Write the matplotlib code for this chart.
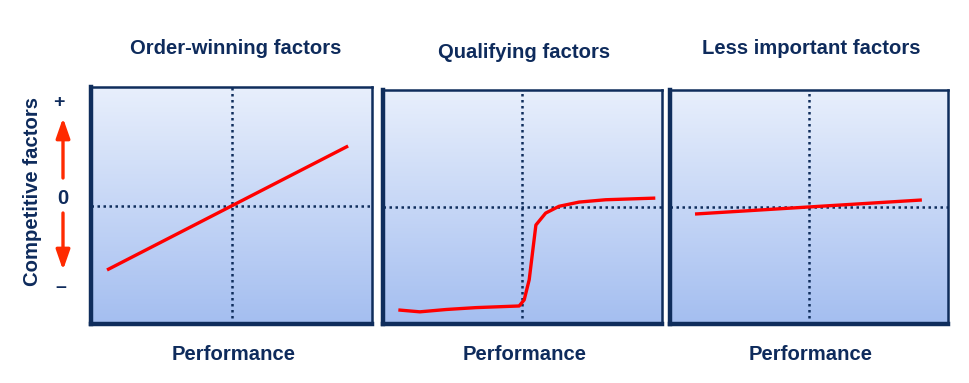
"""
Competitive factors vs performance: order-winning, qualifying, less important
"""

import numpy as np
import matplotlib.pyplot as plt
from matplotlib.colors import LinearSegmentedColormap
from matplotlib.patches import FancyArrowPatch

plt.rcParams['font.family'] = ['Liberation Sans', 'DejaVu Sans']

titles = ['Order-winning factors', 'Qualifying factors', 'Less important factors']
x_label = 'Performance'
y_label = 'Competitive factors'

# curves, in panel units (0..1, centre at 0.5)
order_x = [0.057, 0.915]
order_y = [0.228, 0.751]

qual_x = [0.055, 0.132, 0.227, 0.333, 0.488, 0.506, 0.524, 0.548, 0.583, 0.631, 0.703, 0.798, 0.976]
qual_y = [0.060, 0.052, 0.062, 0.070, 0.077, 0.103, 0.189, 0.423, 0.474, 0.503, 0.521, 0.531, 0.538]

less_x = [0.09, 0.906]
less_y = [0.47, 0.53]

curves = [(order_x, order_y), (qual_x, qual_y), (less_x, less_y)]

navy = '#0F2D5C'
text_col = '#0E2B5C'
grad = LinearSegmentedColormap.from_list('bg', ['#A4BEF0', '#E8EFFC'])

fig = plt.figure(figsize=(9.7, 3.83), dpi=100)
W, H = 970, 383
boxes = [(91, 87, 372, 324), (383, 90, 662, 324), (670, 90, 948, 324)]
title_y = [48, 52, 48]
title_dx = [4, 2, 2]

for (x0, y0, x1, y1), title, ty, dx, (cx, cy) in zip(boxes, titles, title_y, title_dx, curves):
    ax = fig.add_axes([x0 / W, 1 - y1 / H, (x1 - x0) / W, (y1 - y0) / H])
    ax.imshow(np.linspace(0, 1, 256).reshape(-1, 1)[::-1], cmap=grad, aspect='auto',
              extent=[0, 1, 0, 1], zorder=0)
    ax.set_xlim(0, 1)
    ax.set_ylim(0, 1)
    ax.axvline(0.5, color=navy, linestyle=(0, (1, 1.4)), linewidth=1.8, zorder=1)
    ax.axhline(0.5, color=navy, linestyle=(0, (1, 1.4)), linewidth=1.8, zorder=1)
    ax.plot(cx, cy, color='#FF0000', linewidth=2.4, solid_capstyle='butt', zorder=2)
    ax.set_xticks([])
    ax.set_yticks([])
    for side in ['left', 'bottom']:
        ax.spines[side].set_linewidth(3.2)
        ax.spines[side].set_color(navy)
    for side in ['top', 'right']:
        ax.spines[side].set_linewidth(1.8)
        ax.spines[side].set_color(navy)
    mid = (x0 + x1) / 2 / W
    fig.text(mid + dx / W, 1 - ty / H, title, ha='center', va='center', fontsize=14.6,
             fontweight='bold', color=text_col)
    fig.text(mid + 2 / W, 1 - 355 / H, x_label, ha='center', va='center', fontsize=14.6,
             fontweight='bold', color=text_col)

# y axis annotation
fig.text(33 / W, 1 - 191 / H, y_label, rotation=90, ha='center', va='center',
         fontsize=14.6, fontweight='bold', color=text_col)
fig.text(59 / W, 1 - 102 / H, '+', ha='center', va='center', fontsize=14,
         fontweight='bold', color=text_col)
fig.text(63 / W, 1 - 198 / H, '0', ha='center', va='center', fontsize=14.6,
         fontweight='bold', color=text_col)
fig.text(61 / W, 1 - 287 / H, '–', ha='center', va='center', fontsize=14,
         fontweight='bold', color=text_col)

arrow_kw = dict(arrowstyle='-|>,head_length=0.8,head_width=0.28', color='#FF2A00',
                lw=2.4, mutation_scale=15, shrinkA=0, shrinkB=0)
fig.add_artist(FancyArrowPatch((63 / W, 1 - 178 / H), (63 / W, 1 - 118 / H),
                               transform=fig.transFigure, **arrow_kw))
fig.add_artist(FancyArrowPatch((63 / W, 1 - 213 / H), (63 / W, 1 - 270 / H),
                               transform=fig.transFigure, **arrow_kw))

fig.savefig('out.png', dpi=100)
